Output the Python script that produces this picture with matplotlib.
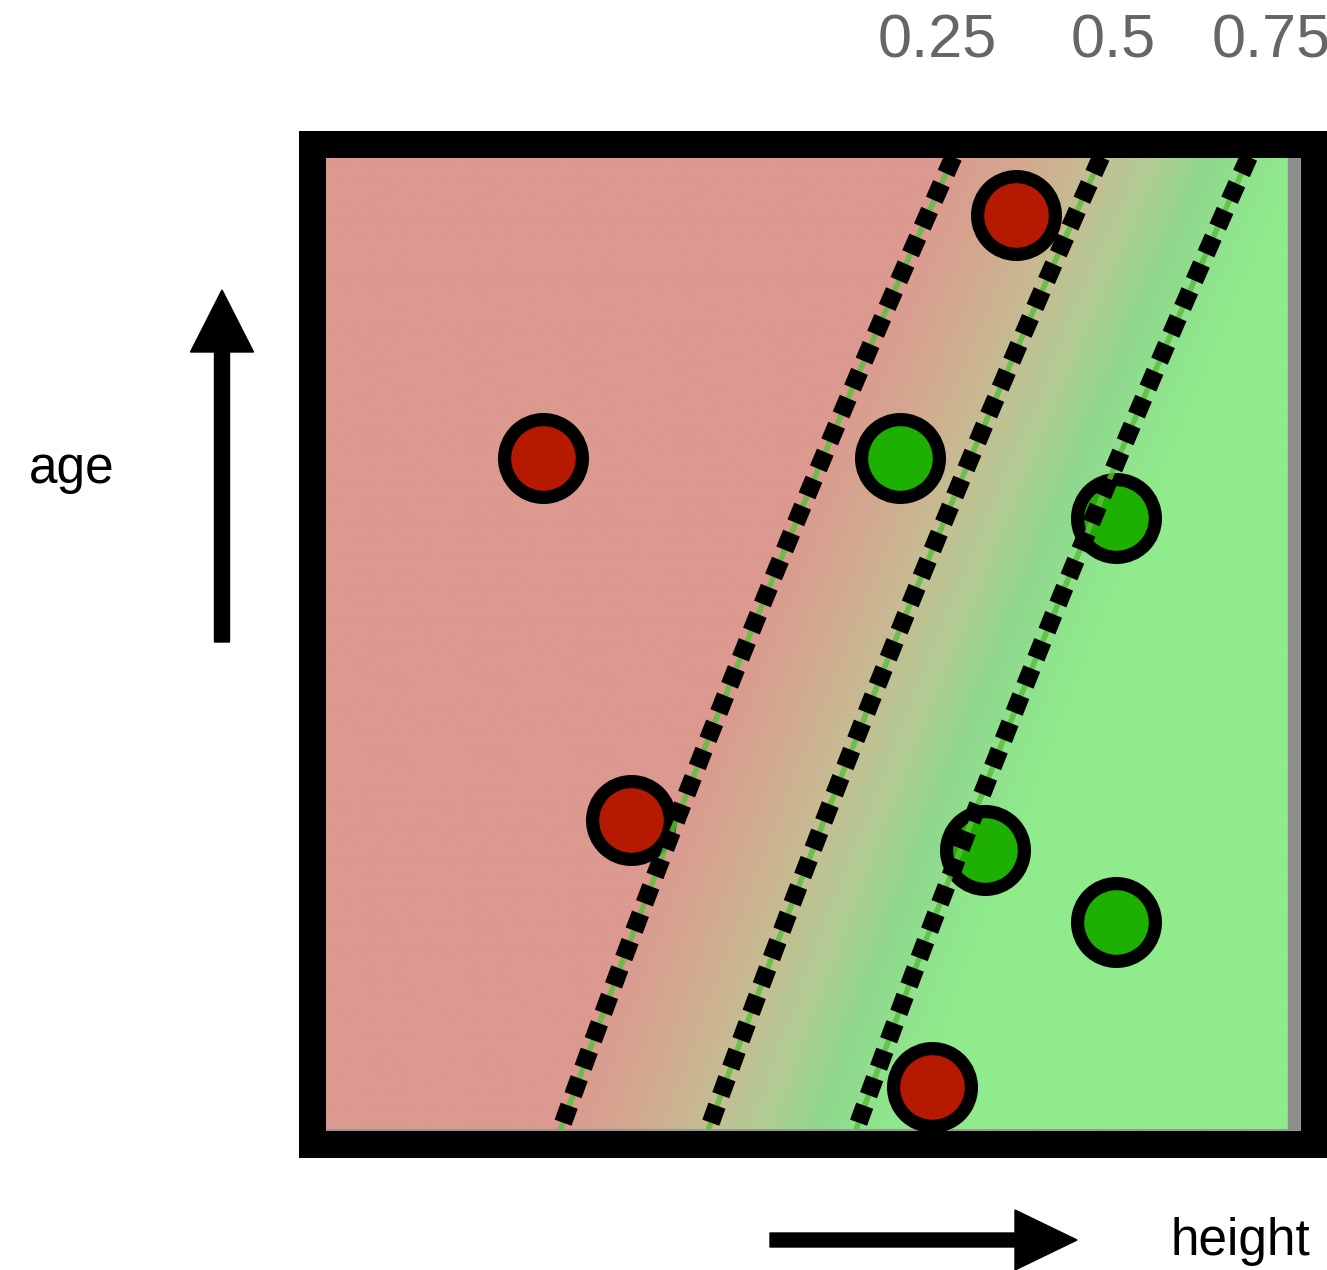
import numpy as np
import matplotlib
matplotlib.use("Agg")
import matplotlib.pyplot as plt
from matplotlib.colors import LinearSegmentedColormap
from matplotlib.patches import Rectangle, FancyArrow
from matplotlib.transforms import IdentityTransform, blended_transform_factory

plt.rcParams['font.family'] = ['Liberation Sans', 'DejaVu Sans']

# Observations (normalised height, normalised age)
red_x = [0.709, 0.224, 0.314, 0.623]
red_y = [0.940, 0.691, 0.319, 0.044]
green_x = [0.590, 0.811, 0.677, 0.811]
green_y = [0.691, 0.629, 0.288, 0.214]

# Logistic classifier: p = sigmoid(k * (height - boundary(age)))
slope_k = 7.25
boundary_coef = [0.393, 0.360, 0.043]   # c0 + c1*age + c2*age^2
levels = [0.25, 0.5, 0.75]
level_labels = ["0.25", "0.5", "0.75"]
label_x = [0.628, 0.808, 0.970]

W, H, DPI = 1327, 1270, 100
fig = plt.figure(figsize=(W / DPI, H / DPI), dpi=DPI)
ax = fig.add_axes([325 / W, (H - 1130) / H, 975 / W, 973 / H])
ax.set_xlim(0, 1)
ax.set_ylim(0, 1)
ax.set_xticks([])
ax.set_yticks([])
for s in ax.spines.values():
    s.set_color('#8a8a8a')
    s.set_linewidth(1.2)

# probability surface
gx = np.linspace(0, 1, 600)
gy = np.linspace(0, 1, 600)
XX, YY = np.meshgrid(gx, gy)
c0, c1, c2 = boundary_coef
P = 1.0 / (1.0 + np.exp(-slope_k * (XX - (c0 + c1 * YY + c2 * YY ** 2))))

cmap = LinearSegmentedColormap.from_list("prob", [
    (0.00, "#DC998F"), (0.24, "#DC998F"), (0.38, "#D1AC90"),
    (0.50, "#C4BE92"), (0.60, "#B1CC94"), (0.70, "#8FD88E"),
    (0.82, "#90EB8C"), (1.00, "#90EB8C")])
ax.imshow(P, extent=[0, 1, 0, 1], origin='lower', cmap=cmap, vmin=0, vmax=1,
          aspect='auto', interpolation='bilinear', zorder=0)
ax.add_patch(Rectangle((0.9877, 0), 0.02, 1, transform=ax.transAxes,
                       color='#8e8e8e', zorder=1))

# data points
ax.plot(red_x, red_y, 'o', ms=56, mfc='#B51A00', mec='black', mew=9.5,
        ls='none', zorder=3)
ax.plot(green_x, green_y, 'o', ms=56, mfc='#1DB000', mec='black', mew=9.5,
        ls='none', zorder=3)

# contour lines: thin green core under thick black dots
ax.contour(XX, YY, P, levels=levels, colors='#5CC03E', linewidths=4.0,
           alpha=0.85, zorder=4)
cs = ax.contour(XX, YY, P, levels=levels, colors='black', linewidths=13,
                linestyles=[(0, (1.0, 0.62))], zorder=5)

# level labels above the frame
trans = blended_transform_factory(ax.transData, fig.transFigure)
for lx, lt in zip(label_x, level_labels):
    fig.text(lx, 1 - 42 / H, lt, transform=trans, ha='center', va='center',
             fontsize=44, color='#666666')

# thick frame
pix = IdentityTransform()
fig.patches.append(Rectangle((311.5, H - 1143.5), 1002, 1000, fill=False,
                             ec='black', lw=27 * 72 / DPI, transform=pix,
                             zorder=10, joinstyle='miter'))

# axis arrows
fig.patches.append(FancyArrow(222, H - 642, 0, 352, width=15, head_width=63,
                              head_length=62, length_includes_head=True,
                              color='black', transform=pix))
fig.patches.append(FancyArrow(770, H - 1240, 307, 0, width=14, head_width=60,
                              head_length=62, length_includes_head=True,
                              color='black', transform=pix))

fig.text(72 / W, 1 - 470 / H, "age", ha='center', va='center', fontsize=37)
fig.text(1240 / W, 1 - 1242 / H, "height", ha='center', va='center', fontsize=37)

fig.savefig("out.png", dpi=DPI)
